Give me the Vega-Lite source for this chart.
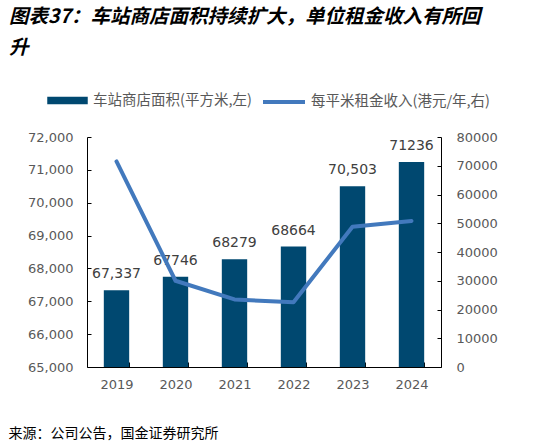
{
  "$schema": "https://vega.github.io/schema/vega-lite/v6.json",
  "width": 354,
  "height": 230,
  "autosize": {"type": "none"},
  "padding": {"left": 87, "top": 137, "right": 100, "bottom": 81},
  "background": "white",
  "title": {
    "text": ["图表37：车站商店面积持续扩大，单位租金收入有所回", "升"],
    "anchor": "start",
    "frame": "group",
    "dx": -78,
    "offset": 21,
    "lineHeight": 31,
    "font": "Noto Sans CJK SC",
    "fontSize": 19.5,
    "fontWeight": "bold",
    "fontStyle": "italic",
    "color": "#000000"
  },
  "config": {
    "view": {"stroke": null},
    "axis": {
      "labelFont": "DejaVu Sans",
      "labelFontSize": 13,
      "labelColor": "#595959",
      "domainColor": "#000000",
      "tickColor": "#000000",
      "domainWidth": 1,
      "tickWidth": 1,
      "grid": false
    },
    "legend": {
      "labelFont": "Noto Sans CJK SC",
      "labelFontSize": 14.5,
      "labelColor": "#595959",
      "labelLimit": 400,
      "padding": 0,
      "titlePadding": 0
    }
  },
  "data": {
    "values": [
      {"year": "2019", "area": 67337, "label": "67,337", "rent": 71500},
      {"year": "2020", "area": 67746, "label": "67746", "rent": 30000},
      {"year": "2021", "area": 68279, "label": "68279", "rent": 23500},
      {"year": "2022", "area": 68664, "label": "68664", "rent": 22500},
      {"year": "2023", "area": 70503, "label": "70,503", "rent": 48800},
      {"year": "2024", "area": 71236, "label": "71236", "rent": 50800}
    ]
  },
  "encoding": {
    "x": {
      "field": "year",
      "type": "ordinal",
      "scale": {"paddingInner": 0.57, "paddingOuter": 0.285},
      "axis": {
        "labelAngle": 0,
        "tickBand": "extent",
        "tickSize": -5,
        "labelPadding": 16,
        "title": "来源：公司公告，国金证券研究所",
        "titleX": -79,
        "titleY": 66,
        "titleAlign": "left",
        "titleBaseline": "middle",
        "titleFont": "Noto Sans CJK SC",
        "titleFontSize": 14,
        "titleFontWeight": "normal",
        "titleColor": "#000000"
      }
    }
  },
  "layer": [
    {
      "encoding": {
        "y": {
          "field": "area",
          "type": "quantitative",
          "scale": {"domain": [65000, 72000], "zero": false, "nice": false},
          "axis": {
            "orient": "left",
            "title": null,
            "values": [65000, 66000, 67000, 68000, 69000, 70000, 71000, 72000],
            "format": ",.0f",
            "tickSize": -4,
            "labelPadding": 18
          }
        }
      },
      "layer": [
        {
          "mark": {"type": "bar", "color": "#004870"},
          "encoding": {
            "y2": {"datum": 65000},
            "fill": {
              "datum": "车站商店面积(平方米,左)",
              "type": "nominal",
              "scale": {"range": ["#004870"]},
              "legend": {
                "orient": "none",
                "legendX": -40,
                "legendY": -57,
                "title": null,
                "symbolType": "M-1,-0.18H1V0.18H-1Z",
                "symbolSize": 1640,
                "symbolStrokeWidth": 0,
                "labelOffset": 5
              }
            }
          }
        },
        {
          "mark": {"type": "text", "baseline": "middle", "dy": -16, "font": "DejaVu Sans", "fontSize": 14, "color": "#404040"},
          "encoding": {
            "text": {"field": "label"}
          }
        }
      ]
    },
    {
      "mark": {"type": "line", "strokeWidth": 4, "strokeJoin": "round", "strokeCap": "round"},
      "encoding": {
        "y": {
          "field": "rent",
          "type": "quantitative",
          "scale": {"domain": [0, 80000], "nice": false},
          "axis": {
            "orient": "right",
            "title": null,
            "values": [0, 10000, 20000, 30000, 40000, 50000, 60000, 70000, 80000],
            "format": "d",
            "tickSize": -4,
            "labelPadding": 19
          }
        },
        "stroke": {
          "datum": "每平米租金收入(港元/年,右)",
          "type": "nominal",
          "scale": {"range": ["#4279BD"]},
          "legend": {
            "orient": "none",
            "legendX": 174,
            "legendY": -58,
            "title": null,
            "symbolType": "stroke",
            "symbolSize": 1764,
            "symbolStrokeWidth": 4,
            "labelOffset": 4
          }
        }
      }
    }
  ],
  "resolve": {"scale": {"y": "independent"}}
}
